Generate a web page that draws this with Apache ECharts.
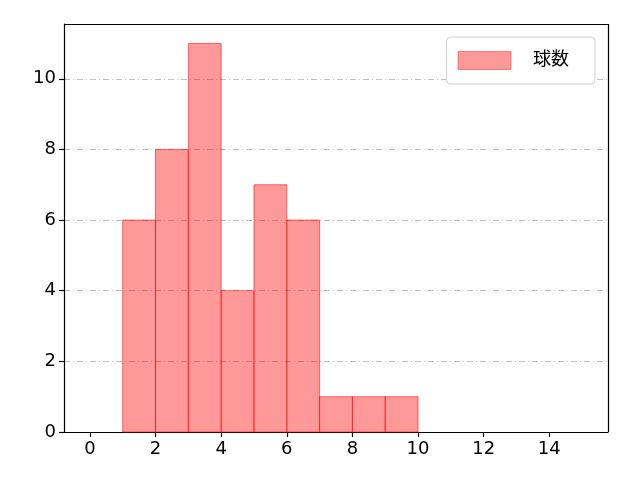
<!DOCTYPE html>
<html><head><meta charset="utf-8">
<script src="https://cdn.jsdelivr.net/npm/echarts@6/dist/echarts.min.js"></script>
<style>html,body{margin:0;padding:0;background:#fff}#c{width:640px;height:480px}</style>
</head><body><div id="c"></div>
<script>
const binStarts = [1, 2, 3, 4, 5, 6, 7, 8, 9];
const binEnds   = [2, 3, 4, 5, 6, 7, 8, 9, 10];
const counts    = [6, 8, 11, 4, 7, 6, 1, 1, 1];
const xTicks = [0, 2, 4, 6, 8, 10, 12, 14];
const yTicks = [0, 2, 4, 6, 8, 10];
const seriesName = '球数';

const data = binStarts.map((s, i) => [s, binEnds[i], counts[i]]);
const chart = echarts.init(document.getElementById('c'), null, {renderer: 'canvas'});
const font = 'DejaVu Sans, Noto Sans CJK JP, sans-serif';
chart.setOption({
  animation: false,
  backgroundColor: '#fff',
  grid: {left: 64, right: 32, top: 24, bottom: 48, containLabel: false},
  xAxis: {
    type: 'value', min: -0.79, max: 15.79,
    axisLine: {onZero: false, lineStyle: {color: '#000', width: 1.2}},
    axisTick: {show: true, length: 5, customValues: xTicks, lineStyle: {color: '#000', width: 1.2}},
    axisLabel: {color: '#000', fontSize: 18, fontFamily: font, margin: 8,
      customValues: xTicks, formatter: v => String(v)},
    splitLine: {show: false}
  },
  yAxis: {
    type: 'value', min: 0, max: 11.55, interval: 2,
    axisLine: {show: true, onZero: false, lineStyle: {color: '#000', width: 1.2}},
    axisTick: {show: true, length: 5, lineStyle: {color: '#000', width: 1.2}},
    axisLabel: {color: '#000', fontSize: 18, fontFamily: font, margin: 8,
      showMaxLabel: false, formatter: v => String(v)},
    splitLine: {show: true, lineStyle: {color: '#b0b0b0', width: 0.8, type: [6, 3, 1, 3]}}
  },
  legend: {
    show: true, right: 45, top: 37,
    itemWidth: 53, itemHeight: 18, itemGap: 10,
    padding: [14, 26, 14, 11],
    backgroundColor: '#fff', borderColor: '#d0d0d0', borderWidth: 1, borderRadius: 4,
    textStyle: {fontSize: 18, fontFamily: font, color: '#000', padding: [0, 0, 0, 17]},
    data: [{name: seriesName, icon: 'rect', itemStyle: {color: 'rgba(255,0,0,0.4)', borderColor: 'rgba(255,0,0,0.4)', borderWidth: 1}}]
  },
  series: [
    {type: 'custom', name: seriesName,
     renderItem: function(params, api) {
       const p0 = api.coord([api.value(0), api.value(2)]);
       const p1 = api.coord([api.value(1), 0]);
       return {type: 'rect',
         shape: {x: p0[0], y: p0[1], width: p1[0] - p0[0], height: p1[1] - p0[1]},
         style: {fill: 'rgba(255,0,0,0.4)', stroke: 'rgba(255,0,0,0.55)', lineWidth: 1}};
     },
     itemStyle: {color: 'rgba(255,0,0,0.4)'},
     encode: {x: [0, 1], y: 2},
     data: data, z: 2},
    {type: 'line', data: [], markLine: {silent: true, symbol: 'none', label: {show: false},
      lineStyle: {color: '#000', width: 1.2, type: 'solid'},
      data: [[{coord: [-0.79, 11.55]}, {coord: [15.79, 11.55]}], [{coord: [15.79, 0]}, {coord: [15.79, 11.55]}]]}}
  ]
});
</script></body></html>
